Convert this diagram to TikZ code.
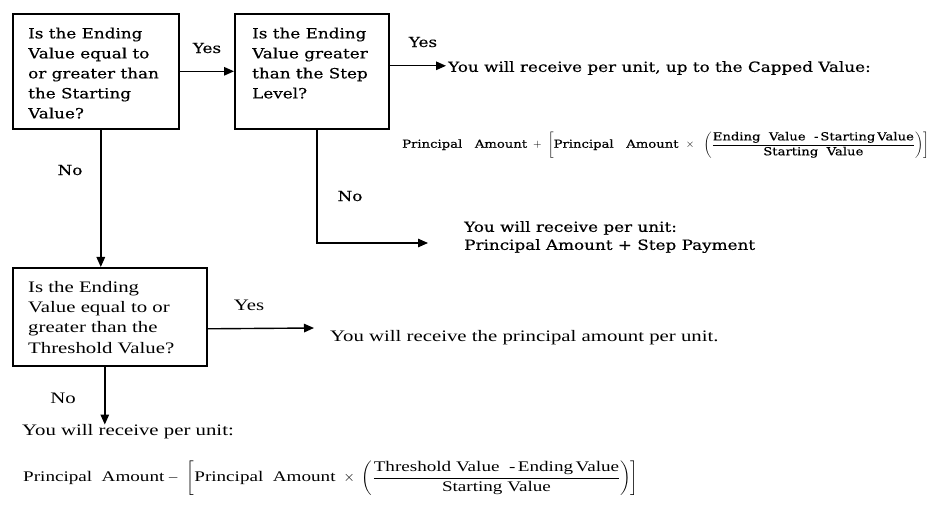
\documentclass[tikz,border=0pt]{standalone}
\usepackage{amsmath}
\usepackage{fontspec}
\setmainfont{Liberation Serif}[FakeStretch=1.3]
\newfontfamily\bk{DejaVu Serif}[FakeStretch=1.2,FakeBold=0.4]
\usetikzlibrary{arrows.meta}
\tikzset{
  box/.style={draw, line width=1.6pt, inner sep=0pt, anchor=north west},
  arr/.style={line width=1.4pt, -{Triangle[length=10pt,width=8.5pt]}},
  tb/.style={font=\bk\fontsize{14}{20}\selectfont, inner sep=0pt, align=left},
  tt/.style={font=\fontsize{16}{20.3}\selectfont, inner sep=0pt, align=left},
}
\begin{document}
\begin{tikzpicture}[x=1pt,y=-1pt]
\useasboundingbox[fill=white] (0,0) rectangle (940,505);
% boxes
\node[box, minimum width=166pt, minimum height=115pt] (b1) at (12,13) {};
\node[box, minimum width=154pt, minimum height=115pt] (b2) at (234,13) {};
\node[box, minimum width=194pt, minimum height=98pt] (b3) at (12,267) {};
\node[tb, anchor=north west] (t1) at (28,27.5) {Is the Ending\\Value equal to\\or greater than\\the Starting\\Value?};
\node[tb, anchor=north west] (t2) at (252,27.5) {Is the Ending\\Value greater\\than the Step\\Level?};
\node[tt, anchor=north west] (t3) at (28,281) {Is the Ending\\Value equal to or\\greater than the\\Threshold Value?};
% labels
\node[tb] (yes1) at (207,48) {Yes};
\node[tb] (yes2) at (423,42) {Yes};
\node[tb] (no1) at (70,170) {No};
\node[tb] (no2) at (350,196) {No};
\node[tt] (yes3) at (249,305) {Yes};
\node[tt] (no3) at (63,398) {No};
% outcomes
\node[tb, anchor=west] (cap) at (448,68) {You will receive per unit, up to the Capped Value:};
\node[anchor=west, inner sep=0pt, font=\bk\fontsize{11}{13}\selectfont] (f1) at (402,145)
 {$\text{Principal\ \ \ Amount}\mskip6mu+\mskip6mu\left[\text{Principal\ \ \ Amount}\mskip8mu\times\mskip11mu\left(\dfrac{\text{Ending\ \ Value\ \ -\,Starting\,Value}}{\text{Starting\ \ Value}}\right)\right]$};
\node[tb, anchor=north west, font=\bk\fontsize{14}{18}\selectfont] (step) at (464,221) {You will receive per unit:\\Principal Amount + Step Payment};
\node[tt, anchor=west] (pr) at (330,338) {You will receive the principal amount per unit.};
\node[tt, anchor=west] (rc) at (22,432) {You will receive per unit:};
\node[anchor=west, inner sep=0pt, font=\fontsize{14.7}{17}\selectfont] (f2) at (23,478)
 {$\text{Principal\ \ Amount}-\mskip6mu\left[\text{Principal\ \ Amount}\mskip6mu\times\mskip5mu\left(\dfrac{\text{Threshold Value\ \ -\,Ending\,Value}}{\text{Starting Value}}\right)\right]$};
\coordinate (stepin) at (428,243);
\coordinate (prin) at (314,328);
% connectors
\draw[arr] (b1.east) -- (b2.west);
\draw[arr] ([yshift=5.5pt]b2.east) -- ([yshift=5.5pt,xshift=-2pt]b2.east -| cap.west);
\draw[arr] ([xshift=5pt]b1.south) -- ([xshift=5pt]b1.south |- b3.north);
\draw[arr] ([xshift=5pt]b2.south) |- (stepin);
\draw[arr] ([yshift=-12pt]b3.east) -- (prin);
\draw[arr] ([xshift=-5pt]b3.south) -- ([xshift=-5pt]b3.south |- rc.north);
\end{tikzpicture}
\end{document}
